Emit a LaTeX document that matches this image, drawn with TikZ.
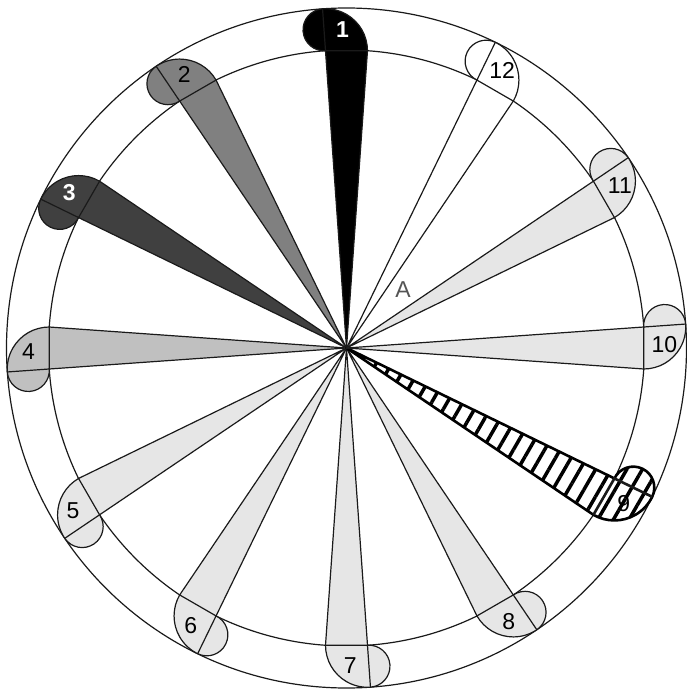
\documentclass[tikz,border=0pt]{standalone}
\usepackage{fontspec}
\setmainfont{Liberation Sans}
\usetikzlibrary{patterns.meta}
\definecolor{ringline}{HTML}{1A1A1A}
\definecolor{petaldark}{HTML}{404040}
\definecolor{petalmid}{HTML}{808080}
\definecolor{petalsoft}{HTML}{C0C0C0}
\definecolor{petallight}{HTML}{E6E6E6}
\definecolor{labelgray}{HTML}{555555}
\newcommand{\rinner}{298}
\newcommand{\router}{340}
\newcommand{\ringw}{42}
\newcommand{\halfw}{4.04}

\begin{document}
\begin{tikzpicture}[
  x=1pt, y=1pt,
  ring/.style={draw=ringline, line width=1.2pt},
  petal/.style={draw=ringline, line width=1.2pt, line join=round},
  inkpetal/.style={petal, fill=black},
  midpetal/.style={petal, fill=petalmid},
  darkpetal/.style={petal, fill=petaldark},
  softpetal/.style={petal, fill=petalsoft},
  palepetal/.style={petal, fill=petallight},
  blankpetal/.style={petal, fill=white},
  hatchpetal/.style={
    draw=black, line width=2.6pt, line join=round,
    preaction={fill=white},
    pattern={Lines[angle=60, distance=13.5pt, line width=3.5pt]}
  },
  num/.style={font=\fontsize{23}{26}\selectfont, inner sep=0pt, text=black},
  numbright/.style={font=\fontsize{23}{26}\selectfont\bfseries, inner sep=0pt, text=white}
]
\useasboundingbox (-346.5,-343) rectangle (339.5,348);

% Rings
\coordinate (hub) at (0,0);
\draw[ring] (hub) circle[radius=\router];
\draw[ring] (hub) circle[radius=\rinner];

% Petals, one every 30 degrees, number 1 at the top
\foreach \k/\look/\lw/\numlook in {
    1/inkpetal/1.2pt/numbright, 2/midpetal/1.2pt/num,
    3/darkpetal/1.2pt/numbright, 4/softpetal/1.2pt/num,
    5/palepetal/1.2pt/num, 6/palepetal/1.2pt/num,
    7/palepetal/1.2pt/num, 8/palepetal/1.2pt/num,
    9/hatchpetal/2.6pt/num, 10/palepetal/1.2pt/num,
    11/palepetal/1.2pt/num, 12/blankpetal/1.2pt/num}{
  \pgfmathsetmacro{\ang}{90+30*(\k-1)}
  \draw[\look] (hub) -- (\ang-\halfw:\rinner)
    arc[start angle=\ang-90, end angle=\ang+\halfw, radius=\ringw]
    arc[start angle=\ang+\halfw, end angle=\ang+\halfw+180, radius=\ringw/2]
    -- cycle;
  \draw[draw=ringline, line width=\lw]
    (\ang-\halfw:\rinner) -- (\ang+\halfw:\rinner) -- (\ang+\halfw:\router);
  \node[\numlook] (lab\k) at (\ang+0.7:318) {\k};
}

% Loose mark between 11 and 12
\node[font=\fontsize{23}{26}\selectfont, text=labelgray, inner sep=0pt] (markA) at (45.8:81) {A};

\end{tikzpicture}
\end{document}
